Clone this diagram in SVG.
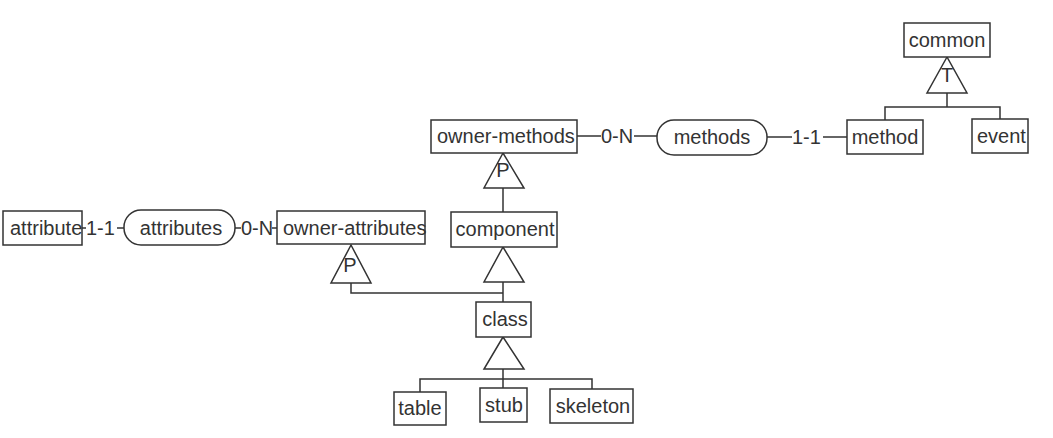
<svg xmlns="http://www.w3.org/2000/svg" width="1053" height="438" viewBox="0 0 1053 438">
<style>
.box{fill:#fff;stroke:#333;stroke-width:1.5}
.tri{fill:#fff;stroke:#333;stroke-width:1.5}
.ln{fill:none;stroke:#333;stroke-width:1.5}
text{font-family:"Liberation Sans",Arial,sans-serif;font-size:20px;fill:#333}
.c{text-anchor:middle}
</style>
<rect width="1053" height="438" fill="#fff"/>
<g id="connectors">
<line class="ln" x1="82" y1="228" x2="86" y2="228"/>
<text x="86" y="235">1-1</text>
<line class="ln" x1="117" y1="228" x2="124" y2="228"/>
<line class="ln" x1="235" y1="228" x2="241" y2="228"/>
<text x="241" y="235">0-N</text>
<line class="ln" x1="272" y1="228" x2="277" y2="228"/>
<line class="ln" x1="577" y1="136" x2="601" y2="136"/>
<text x="601" y="143">0-N</text>
<line class="ln" x1="634" y1="136" x2="657" y2="136"/>
<line class="ln" x1="767" y1="137" x2="792" y2="137"/>
<text x="792" y="144">1-1</text>
<line class="ln" x1="823" y1="137" x2="847" y2="137"/>
<polyline class="ln" points="947,93 947,107"/>
<polyline class="ln" points="885,120 885,107 1000,107 1000,119"/>
<polyline class="ln" points="503,188 503,212"/>
<polyline class="ln" points="351,283 351,293 503,293"/>
<polyline class="ln" points="503,282 503,302"/>
<polyline class="ln" points="503,369 503,388"/>
<polyline class="ln" points="420,392 420,379 592,379 592,389"/>
<polygon class="tri" points="947,57 927,93 967,93"/>
<text class="c" x="947" y="82">T</text>
<polygon class="tri" points="503,153 484,188 524,188"/>
<text class="c" x="503" y="177">P</text>
<polygon class="tri" points="351,245 331,283 371,283"/>
<text class="c" x="350" y="272">P</text>
<polygon class="tri" points="503,247 484,282 524,282"/>
<polygon class="tri" points="503,337 484,369 524,369"/>
</g>
<g id="attribute"><rect class="box" x="3" y="211" width="79" height="34"/><text x="10" y="235">attribute</text></g>
<g id="attributes"><rect class="box" x="124" y="210" width="111" height="35" rx="17"/><text class="c" x="181" y="235">attributes</text></g>
<g id="owner-attributes"><rect class="box" x="277" y="211" width="148" height="33"/><text x="283" y="235">owner-attributes</text></g>
<g id="owner-methods"><rect class="box" x="431" y="120" width="146" height="33"/><text x="437" y="143">owner-methods</text></g>
<g id="methods"><rect class="box" x="657" y="120" width="110" height="35" rx="17"/><text class="c" x="712" y="144">methods</text></g>
<g id="common"><rect class="box" x="904" y="23" width="86" height="34"/><text class="c" x="947" y="47">common</text></g>
<g id="method"><rect class="box" x="847" y="120" width="76" height="34"/><text class="c" x="885" y="144">method</text></g>
<g id="event"><rect class="box" x="972" y="119" width="56" height="34"/><text x="977" y="143">event</text></g>
<g id="component"><rect class="box" x="451" y="212" width="106" height="35"/><text class="c" x="505" y="236">component</text></g>
<g id="class"><rect class="box" x="476" y="302" width="55" height="35"/><text class="c" x="505" y="326">class</text></g>
<g id="table"><rect class="box" x="394" y="392" width="52" height="33"/><text class="c" x="420" y="415">table</text></g>
<g id="stub"><rect class="box" x="480" y="388" width="47" height="34"/><text class="c" x="504" y="412">stub</text></g>
<g id="skeleton"><rect class="box" x="550" y="389" width="83" height="34"/><text class="c" x="593" y="413">skeleton</text></g>
</svg>
